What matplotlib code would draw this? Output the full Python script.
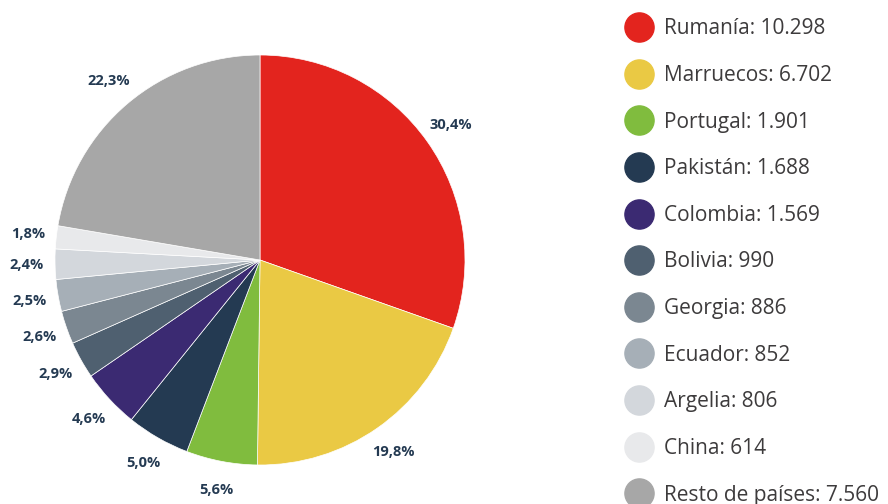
import matplotlib
matplotlib.use("Agg")
import matplotlib.pyplot as plt
from matplotlib.lines import Line2D

countries = ["Rumanía", "Marruecos", "Portugal", "Pakistán", "Colombia", "Bolivia",
             "Georgia", "Ecuador", "Argelia", "China", "Resto de países"]
values = [10298, 6702, 1901, 1688, 1569, 990, 886, 852, 806, 614, 7560]
colors = ["#e3241e", "#eac944", "#80bc3e", "#243a52", "#3b2a72", "#4f6070",
          "#7b8791", "#a6afb7", "#d3d7dc", "#e8e9eb", "#a7a7a7"]

plt.rcParams['font.family'] = ['Open Sans', 'DejaVu Sans']

fig = plt.figure(figsize=(8.88, 5.04), dpi=100)
W, H = 888, 504
cx, cy, r = 260, 260, 205
ax = fig.add_axes([(cx - r) / W, (H - cy - r) / H, 2 * r / W, 2 * r / H])

def fmt(p):
    return f"{p:.1f}%".replace('.', ',')

wedges, texts, autotexts = ax.pie(values, colors=colors, startangle=90, counterclock=False,
                                  radius=1, autopct=fmt, pctdistance=1.14,
                                  wedgeprops=dict(edgecolor='white', linewidth=0.5),
                                  textprops=dict(color='#243a52', fontsize=10.5, fontweight='bold'))
ax.set_xlim(-1, 1)
ax.set_ylim(-1, 1)
ax.set_aspect('equal')
ax.axis('off')

def num(v):
    return f"{v:,}".replace(',', '.')

handles = [Line2D([], [], marker='o', linestyle='none', markersize=21,
                  markerfacecolor=c, markeredgecolor=c) for c in colors]
labels = [f"{n}: {num(v)}" for n, v in zip(countries, values)]
fig.legend(handles, labels, loc='upper left', bbox_to_anchor=(618 / W, 1 - 10 / H),
           frameon=False, fontsize=15, labelcolor='#3d3b3c', labelspacing=1.23,
           handletextpad=0.6, handlelength=1.2, borderaxespad=0)

fig.savefig("out.png", dpi=100)
